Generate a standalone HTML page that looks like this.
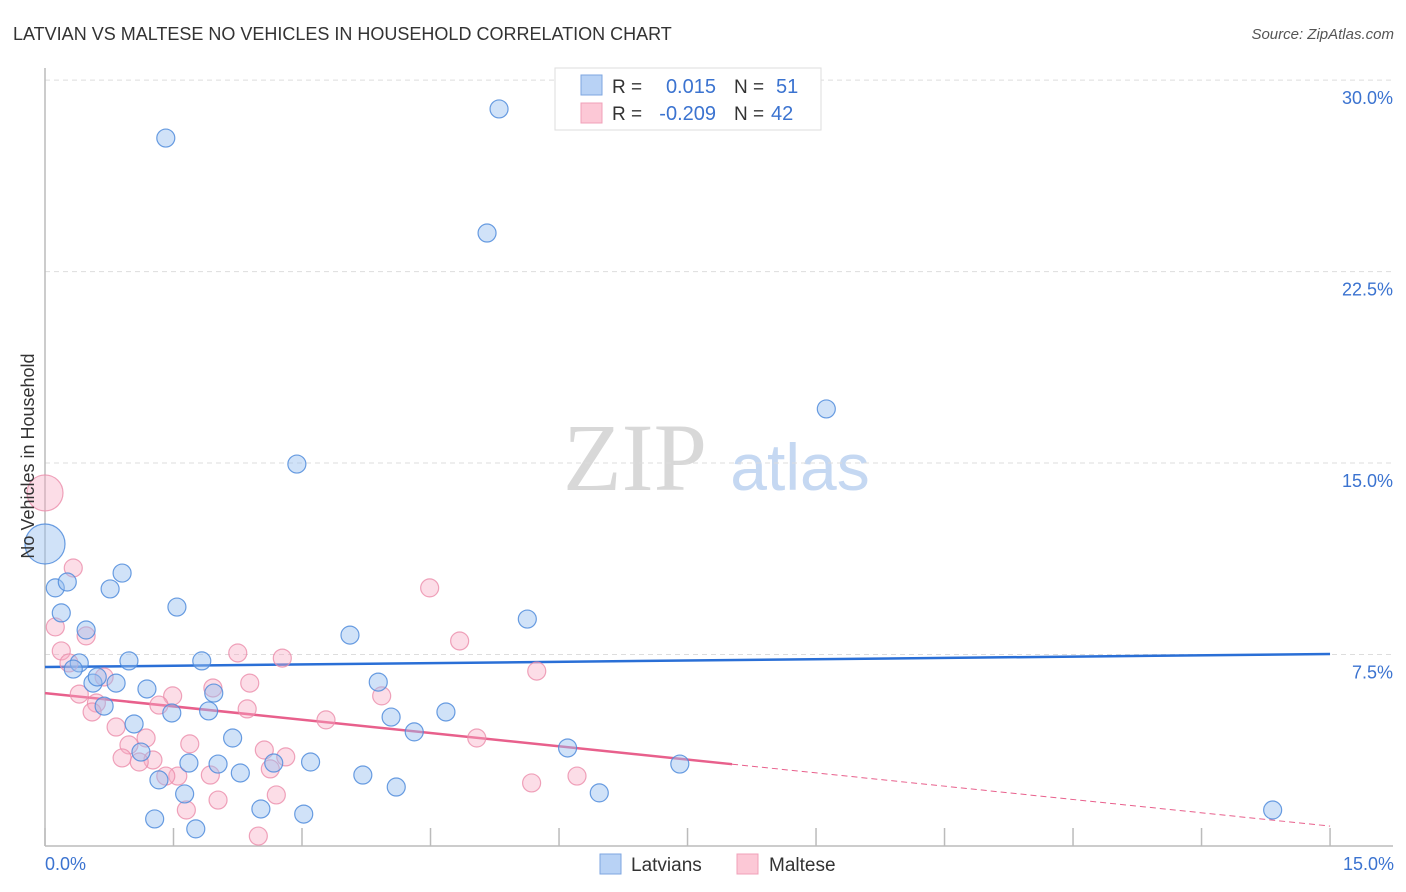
<!DOCTYPE html>
<html><head><meta charset="utf-8"><style>
body{margin:0;background:#fff;font-family:"Liberation Sans",sans-serif}
svg{display:block}
</style></head><body>
<svg id="chart" width="1406" height="892">
<text x="13" y="40" font-size="18" fill="#333">LATVIAN VS MALTESE NO VEHICLES IN HOUSEHOLD CORRELATION CHART</text>
<text x="1394" y="39" font-size="15" fill="#555" font-style="italic" text-anchor="end">Source: ZipAtlas.com</text>
<text x="635" y="490" font-size="96" fill="#d8d8d8" font-family="Liberation Serif" text-anchor="middle">ZIP</text>
<text x="800" y="490" font-size="66" fill="#c5d8f2" text-anchor="middle">atlas</text>
<g id="grid"></g><g id="axes"></g><g id="lines"></g><g id="pts"></g>
<text transform="translate(34,456) rotate(-90)" font-size="18" fill="#333" text-anchor="middle">No Vehicles in Household</text>
<text x="45" y="870" font-size="18" fill="#3b73d0">0.0%</text>
<text x="1394" y="870" font-size="18" fill="#3b73d0" text-anchor="end">15.0%</text>
<g>
<rect x="555" y="68" width="266" height="62" fill="#fff" stroke="#ddd"/>
<rect x="581" y="75" width="21" height="20" fill="#b8d2f5" stroke="#7ea6e0"/>
<rect x="581" y="103" width="21" height="20" fill="#fcc8d6" stroke="#f0a0b8"/>
<text x="612" y="93" font-size="19" fill="#333">R =</text><text x="716" y="93" font-size="20" fill="#3b73d0" text-anchor="end">0.015</text>
<text x="734" y="93" font-size="19" fill="#333">N =</text><text x="776" y="93" font-size="20" fill="#3b73d0">51</text>
<text x="612" y="120" font-size="19" fill="#333">R =</text><text x="716" y="120" font-size="20" fill="#3b73d0" text-anchor="end">-0.209</text>
<text x="734" y="120" font-size="19" fill="#333">N =</text><text x="771" y="120" font-size="20" fill="#3b73d0">42</text>
</g>
<g>
<rect x="600" y="854" width="21" height="20" fill="#b8d2f5" stroke="#7ea6e0"/>
<text x="631" y="871" font-size="19" fill="#333">Latvians</text>
<rect x="737" y="854" width="21" height="20" fill="#fcc8d6" stroke="#f0a0b8"/>
<text x="769" y="871" font-size="19" fill="#333">Maltese</text>
</g>
</svg>
<script>
const yTicks=[7.5,15,22.5,30];
const yTickLabels=["7.5%","15.0%","22.5%","30.0%"];
const xTicks=[0,1.5,3,4.5,6,7.5,9,10.5,12,13.5,15];
const blueX=[1.41,5.30,5.16,9.12,2.94,0,0.12,0.26,0.90,0.76,0.19,1.54,0.48,3.56,5.63,0.40,0.33,0.98,1.83,0.56,0.83,0.61,1.19,1.97,3.89,0.69,1.48,1.91,4.04,4.68,1.04,2.19,4.31,1.12,1.68,2.02,2.67,3.10,6.10,1.33,2.28,3.71,4.10,1.63,2.52,3.02,1.28,1.76,6.47,7.41,14.33];
const blueY=[27.73,28.87,24.01,17.12,14.96,11.83,10.11,10.34,10.69,10.07,9.13,9.36,8.46,8.26,8.89,7.17,6.93,7.25,7.25,6.38,6.38,6.62,6.15,5.99,6.42,5.48,5.21,5.29,5.05,5.25,4.78,4.23,4.47,3.68,3.25,3.21,3.25,3.29,3.84,2.59,2.86,2.78,2.31,2.04,1.45,1.25,1.06,0.67,2.08,3.21,1.41];
const pinkX=[0,0.33,0.12,0.48,0.19,0.28,4.49,4.84,2.25,2.77,5.74,0.69,0.40,1.49,1.96,2.39,1.33,0.60,0.55,2.36,3.28,3.93,0.83,1.18,0.98,1.69,5.04,0.90,1.26,1.10,1.55,1.41,1.93,2.56,2.81,2.63,6.21,5.68,2.70,2.02,1.65,2.49];
const pinkY=[13.83,10.89,8.58,8.23,7.64,7.17,10.11,8.03,7.56,7.36,6.85,6.62,5.95,5.88,6.19,6.38,5.52,5.60,5.25,5.37,4.94,5.88,4.66,4.23,3.96,4.00,4.23,3.45,3.37,3.29,2.74,2.74,2.78,3.76,3.49,3.02,2.74,2.47,2.00,1.80,1.41,0.39];
const blueTrend=[7.01,7.52];
const pinkTrend=[5.99,0.78];
const pinkSolidEnd=8.02;
const NS="http://www.w3.org/2000/svg";
const X=v=>45+v*85.67, Y=v=>846-v*25.53;
function mk(t,a,p){const e=document.createElementNS(NS,t);for(const k in a)e.setAttribute(k,a[k]);p.appendChild(e);return e;}
const grid=document.getElementById('grid'),axes=document.getElementById('axes'),lines=document.getElementById('lines'),pts=document.getElementById('pts');
yTicks.forEach((t,i)=>{
 const l=mk('line',{x1:45,x2:1393,y1:Y(t),y2:Y(t),stroke:'#ddd','stroke-dasharray':'5,4'},grid);
 
 
 const tx=mk('text',{x:1393,y:Y(t)+24,'font-size':18,fill:'#3b73d0','text-anchor':'end'},grid);
 tx.textContent=yTickLabels[i];
 
 
});
const ya=mk('line',{x1:45,x2:45,y1:68,y2:846,stroke:'#bbb','stroke-width':1.5},axes);


const xa=mk('line',{x1:45,x2:1393,y1:846,y2:846,stroke:'#bbb','stroke-width':1.5},axes);


xTicks.forEach(t=>{
 const l=mk('line',{x1:X(t),x2:X(t),y1:828,y2:846,stroke:'#bbb','stroke-width':1.5},axes);
 
 
});
function dot(x,y,r,fill,stroke,name){
 const c=mk('circle',{cx:X(x),cy:Y(y),r:r,fill:fill,stroke:stroke,'stroke-width':1.2},pts);
 
 
}
pinkX.forEach((x,i)=>dot(x,pinkY[i],i===0?18:9,'rgba(248,170,195,0.4)','rgba(235,140,170,0.8)','maltese-point'));
blueX.forEach((x,i)=>dot(x,blueY[i],i===5?20:9,'rgba(150,190,240,0.45)','rgba(80,140,220,0.85)','latvians-point'));
const bl=mk('line',{x1:X(0),x2:X(15),y1:Y(blueTrend[0]),y2:Y(blueTrend[1]),stroke:'#2a6fd6','stroke-width':2.5},lines);


const py=x=>pinkTrend[0]+(pinkTrend[1]-pinkTrend[0])*x/15;
const pl=mk('line',{x1:X(0),x2:X(pinkSolidEnd),y1:Y(pinkTrend[0]),y2:Y(py(pinkSolidEnd)),stroke:'#e8608c','stroke-width':2.5},lines);


const pd=mk('line',{x1:X(pinkSolidEnd),x2:X(15),y1:Y(py(pinkSolidEnd)),y2:Y(pinkTrend[1]),stroke:'#e8608c','stroke-width':1,'stroke-dasharray':'6,4'},lines);


</script>
</body></html>
